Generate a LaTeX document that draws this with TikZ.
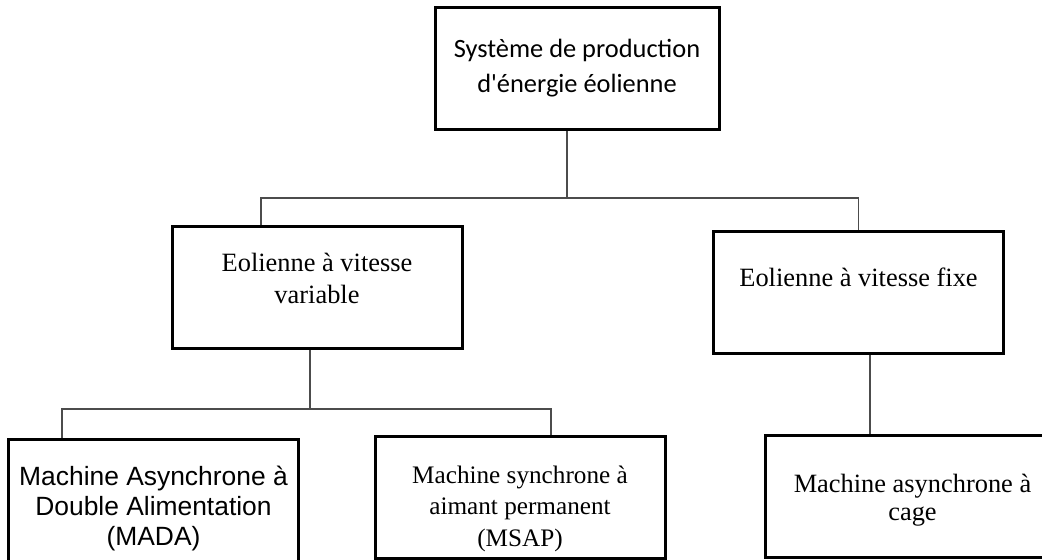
\documentclass[tikz,border=0pt]{standalone}
\usepackage{fontspec}
\setmainfont{Liberation Serif}
\newfontfamily\calibrifont{Carlito}[Ligatures=TeXOff]
\newfontfamily\arialfont{Liberation Sans}
\usetikzlibrary{positioning, calc}

\begin{document}
\begin{tikzpicture}[
      x=0.5pt, y=-0.5pt,
      box/.style={rectangle, draw, line width=1.5pt, inner sep=0pt, align=center, minimum width=145pt, minimum height=61pt, text depth=0pt},
      serif/.style={font=\fontsize{13.2}{#1}\selectfont},
      link/.style={draw=black!70, line width=0.7pt}
    ]
    \useasboundingbox (0,0) rectangle (1042,560);

    \node[box, minimum width=142pt, text height=24pt, font=\calibrifont\fontsize{13.2}{17.5}\selectfont] (sys) at (577,69) {Système de production\\d'énergie éolienne};
    \node[box, serif=16, text height=16pt] (var) at (317,288) {Eolienne à vitesse\\variable};
    \node[box, serif=16, text height=0pt, text depth=5.5pt] (fixe) at (858.5,292.5) {Eolienne à vitesse fixe};
    \node[box, text height=45pt, font=\arialfont\fontsize{13.2}{15}\selectfont] (mada) at (153.5,500) {Machine Asynchrone à\\Double Alimentation\\(MADA)};
    \node[box, text height=48.5pt, font=\fontsize{12.6}{15.75}\selectfont] (msap) at (520,497.5) {Machine synchrone à\\aimant permanent\\(MSAP)};
    \node[box, minimum width=147.5pt, serif=14, text height=24pt] (cage) at (912.5,496) {Machine asynchrone à\\cage};

    \coordinate (bus1) at (567,198);
    \coordinate (bus2) at (310,409);
    \coordinate (drop) at (870,0);

    \draw[link] (sys.south -| bus1) -- (bus1);
    \draw[link] (var.north) ++(-56,0) |- (bus1) -| (fixe.north);
    \draw[link] (var.south -| bus2) -- (bus2);
    \draw[link] (mada.north) ++(-91.5,0) |- (bus2) -| ([xshift=15.5pt]msap.north);
    \draw[link] (fixe.south -| drop) -- (cage.north -| drop);
  \end{tikzpicture}
\end{document}
